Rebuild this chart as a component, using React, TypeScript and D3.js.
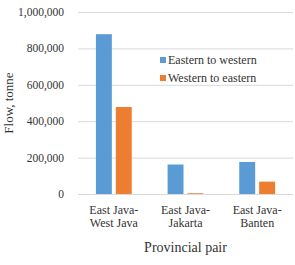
import React, { useEffect, useRef } from 'react';
import * as d3 from 'd3';

// chart data
const categories: string[][] = [
  ['East Java-', 'West Java'],
  ['East Java-', 'Jakarta'],
  ['East Java-', 'Banten'],
];
const seriesNames = ['Eastern to western', 'Western to eastern'];
const easternToWestern = [878000, 162000, 176000];
const westernToEastern = [478000, 4000, 68000];
const yTicks = [0, 200000, 400000, 600000, 800000, 1000000];
const colors = ['#5B9BD5', '#ED7D31'];

const W = 295;
const H = 265;
const margin = { top: 12, right: 2, bottom: 71, left: 78 };
const FONT = "'Liberation Serif', 'Times New Roman', serif";

const App: React.FC = () => {
  const svgRef = useRef<SVGSVGElement>(null);

  useEffect(() => {
    if (!svgRef.current) return;
    const svg = d3.select(svgRef.current);
    svg.selectAll('*').remove();
    svg.style('font-family', FONT);

    const innerW = W - margin.left - margin.right;
    const innerH = H - margin.top - margin.bottom;

    const x = d3.scaleBand<number>()
      .domain(categories.map((_, i) => i))
      .range([0, innerW])
      .paddingInner(0.5)
      .paddingOuter(0.25);
    const x1 = d3.scaleBand<number>()
      .domain([0, 1])
      .range([0, x.bandwidth()])
      .paddingInner(0.2);
    const y = d3.scaleLinear().domain([0, 1000000]).range([innerH, 0]);

    const g = svg.append('g').attr('transform', `translate(${margin.left},${margin.top})`);

    // gridlines
    g.selectAll('line.grid')
      .data(yTicks)
      .join('line')
      .attr('class', 'grid')
      .attr('x1', 0)
      .attr('x2', innerW)
      .attr('y1', (d) => y(d) + 0.5)
      .attr('y2', (d) => y(d) + 0.5)
      .attr('stroke', '#D9D9D9')
      .attr('stroke-width', 1);

    // tick labels
    g.selectAll('text.ytick')
      .data(yTicks)
      .join('text')
      .attr('class', 'ytick')
      .attr('x', -14)
      .attr('y', (d) => y(d))
      .attr('dy', '0.35em')
      .attr('text-anchor', 'end')
      .style('font-family', FONT)
      .style('font-size', '11.5px')
      .attr('fill', '#333')
      .text((d) => d3.format(',')(d));

    // bars
    const series = [easternToWestern, westernToEastern];
    series.forEach((vals, s) => {
      g.selectAll(`rect.s${s}`)
        .data(vals)
        .join('rect')
        .attr('class', `s${s}`)
        .attr('x', (_, i) => (x(i) || 0) + (x1(s) || 0))
        .attr('y', (d) => y(d))
        .attr('width', x1.bandwidth())
        .attr('height', (d) => innerH - y(d))
        .attr('fill', colors[s]);
    });

    // category labels
    categories.forEach((lines, i) => {
      const t = g.append('text')
        .attr('text-anchor', 'middle')
        .style('font-family', FONT)
        .style('font-size', '12px')
        .attr('fill', '#333');
      lines.forEach((line, j) => {
        t.append('tspan')
          .attr('x', (x(i) || 0) + x.bandwidth() / 2)
          .attr('y', innerH + 20 + j * 13)
          .text(line);
      });
    });

    // axis titles
    svg.append('text')
      .attr('x', margin.left + innerW / 2)
      .attr('y', 252)
      .attr('text-anchor', 'middle')
      .style('font-family', FONT)
      .style('font-size', '14px')
      .attr('fill', '#333')
      .text('Provincial pair');

    svg.append('text')
      .attr('transform', `translate(13,${margin.top + innerH / 2}) rotate(-90)`)
      .attr('text-anchor', 'middle')
      .style('font-family', FONT)
      .style('font-size', '13px')
      .attr('fill', '#333')
      .text('Flow, tonne');

    // legend
    const legend = svg.append('g').attr('transform', 'translate(158,52)');
    legend.append('rect')
      .attr('x', 0).attr('y', 0).attr('width', 137).attr('height', 32)
      .attr('fill', '#fff');
    seriesNames.forEach((name, i) => {
      legend.append('rect')
        .attr('x', 2)
        .attr('y', 5 + i * 18)
        .attr('width', 6)
        .attr('height', 6)
        .attr('fill', colors[i]);
      legend.append('text')
        .attr('x', 10)
        .attr('y', 8 + i * 18)
        .attr('dy', '0.35em')
        .style('font-family', FONT)
        .style('font-size', '12px')
        .attr('fill', '#333')
        .text(name);
    });
  }, []);

  return (
    <svg
      ref={svgRef}
      width={W}
      height={H}
      style={{ position: 'absolute', left: 0, top: 0, background: '#fff' }}
    />
  );
};

export default App;
